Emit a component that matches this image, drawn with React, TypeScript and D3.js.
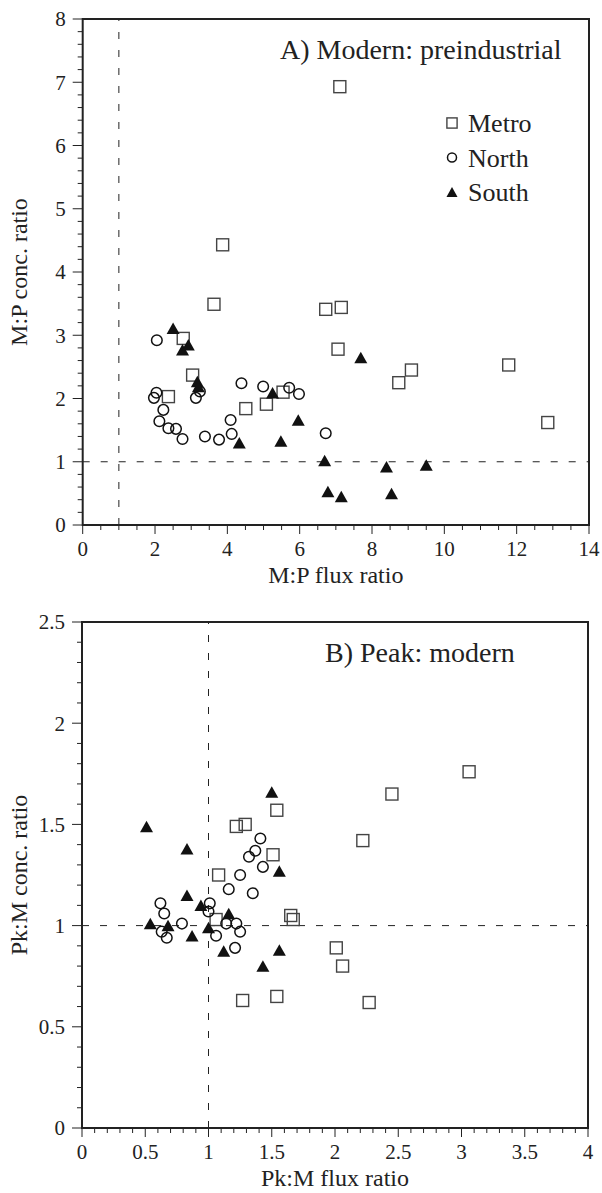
import React from "react";
import * as d3 from "d3";

type Pt = [number, number];

// Panel A: modern vs preindustrial (flux ratio, conc. ratio)
const metroA: Pt[] = [
  [3.87, 4.43], [7.11, 6.93], [3.63, 3.49], [2.78, 2.95], [3.04, 2.37], [2.37, 2.03],
  [4.51, 1.84], [5.08, 1.91], [5.54, 2.1], [6.72, 3.41], [7.15, 3.44], [7.06, 2.78],
  [9.09, 2.45], [8.74, 2.25], [11.78, 2.53], [12.86, 1.62],
];
const northA: Pt[] = [
  [2.05, 2.92], [2.04, 2.09], [1.97, 2.01], [2.23, 1.82], [2.12, 1.64], [2.37, 1.53],
  [2.58, 1.52], [2.76, 1.36], [3.24, 2.11], [3.13, 2.01], [3.38, 1.4], [3.77, 1.35],
  [4.09, 1.66], [4.12, 1.44], [4.39, 2.24], [4.99, 2.19], [5.71, 2.17], [5.98, 2.07],
  [6.72, 1.45],
];
const southA: Pt[] = [
  [2.5, 3.11], [2.76, 2.77], [2.92, 2.85], [3.17, 2.27], [3.2, 2.19], [4.33, 1.3],
  [5.25, 2.09], [5.48, 1.33], [5.96, 1.66], [6.69, 1.02], [6.78, 0.53], [7.15, 0.45],
  [7.69, 2.65], [8.4, 0.92], [8.54, 0.5], [9.5, 0.95],
];

// Panel B: peak vs modern
const metroB: Pt[] = [
  [1.54, 1.57], [1.22, 1.49], [1.29, 1.5], [1.51, 1.35], [1.08, 1.25], [1.65, 1.05],
  [1.67, 1.03], [1.06, 1.03], [3.06, 1.76], [2.45, 1.65], [2.22, 1.42], [1.27, 0.63],
  [1.54, 0.65], [2.01, 0.89], [2.06, 0.8], [2.27, 0.62],
];
const northB: Pt[] = [
  [0.62, 1.11], [0.65, 1.06], [0.63, 0.97], [0.67, 0.94], [0.79, 1.01], [1.01, 1.11],
  [1.0, 1.07], [1.06, 0.95], [1.14, 1.01], [1.22, 1.01], [1.25, 0.97], [1.21, 0.89],
  [1.16, 1.18], [1.25, 1.25], [1.35, 1.16], [1.32, 1.34], [1.37, 1.37], [1.41, 1.43],
  [1.43, 1.29],
];
const southB: Pt[] = [
  [1.5, 1.66], [0.51, 1.49], [0.83, 1.38], [1.56, 1.27], [0.83, 1.15], [0.94, 1.1],
  [1.16, 1.06], [0.54, 1.01], [0.68, 1.0], [1.0, 0.99], [0.87, 0.95], [1.12, 0.875],
  [1.56, 0.88], [1.43, 0.8],
];

const xTicksA = [0, 2, 4, 6, 8, 10, 12, 14];
const yTicksA = [0, 1, 2, 3, 4, 5, 6, 7, 8];
const xTicksB = [0, 0.5, 1, 1.5, 2, 2.5, 3, 3.5, 4];
const yTicksB = [0, 0.5, 1, 1.5, 2, 2.5];

const legendItems = ["Metro", "North", "South"];

const FONT = "Liberation Serif, Times New Roman, serif";
const INK = "#222";

const triPath = (w: number, h: number) =>
  `M0,${-h / 2}L${w / 2},${h / 2}L${-w / 2},${h / 2}Z`;

function Marker({ kind, x, y, s = 1 }: { kind: number; x: number; y: number; s?: number }) {
  if (kind === 0)
    return (
      <rect x={x - 6 * s} y={y - 6 * s} width={12 * s} height={12 * s}
        fill="none" stroke="#444" strokeWidth={1.4} />
    );
  if (kind === 1)
    return <circle cx={x} cy={y} r={5.3 * s} fill="none" stroke="#111" strokeWidth={1.5} />;
  return <path transform={`translate(${x},${y})`} d={triPath(13 * s, 11.5 * s)} fill="#111" />;
}

interface PanelProps {
  box: { left: number; right: number; top: number; bottom: number };
  xMax: number;
  yMax: number;
  xTicks: number[];
  yTicks: number[];
  xMinor: number;
  yMinor: number;
  series: Pt[][];
  title: string;
  titleX: number;
  xLabel: string;
  yLabel: string;
  legend?: boolean;
}

function Panel(p: PanelProps) {
  const { left, right, top, bottom } = p.box;
  const x = d3.scaleLinear().domain([0, p.xMax]).range([left, right]);
  const y = d3.scaleLinear().domain([0, p.yMax]).range([bottom, top]);
  const xMinor = d3.range(0, p.xMax + 1e-9, p.xMinor);
  const yMinor = d3.range(0, p.yMax + 1e-9, p.yMinor);
  const isMajor = (v: number, ticks: number[]) => ticks.some((t) => Math.abs(t - v) < 1e-6);

  return (
    <g>
      {/* reference lines at ratio = 1 */}
      <line x1={x(1)} x2={x(1)} y1={bottom} y2={top} stroke={INK} strokeWidth={1}
        strokeDasharray="7,11" />
      <line x1={left} x2={right} y1={y(1)} y2={y(1)} stroke={INK} strokeWidth={1}
        strokeDasharray="7,11" />

      {/* ticks */}
      {xMinor.map((v, i) => (
        <line key={"xm" + i} x1={x(v)} x2={x(v)} y1={bottom}
          y2={bottom + (isMajor(v, p.xTicks) ? 9 : 5)} stroke={INK} strokeWidth={1} />
      ))}
      {yMinor.map((v, i) => (
        <line key={"ym" + i} x1={left} x2={left - (isMajor(v, p.yTicks) ? 10 : 5)}
          y1={y(v)} y2={y(v)} stroke={INK} strokeWidth={1} />
      ))}
      {p.xTicks.map((v) => (
        <text key={"xt" + v} x={x(v)} y={bottom + 31} textAnchor="middle" fontSize={21}
          fontFamily={FONT} fill={INK}>{v}</text>
      ))}
      {p.yTicks.map((v) => (
        <text key={"yt" + v} x={left - 17} y={y(v)} dy="0.35em" textAnchor="end" fontSize={21}
          fontFamily={FONT} fill={INK}>{v}</text>
      ))}

      {/* points */}
      {p.series.map((pts, k) =>
        pts.map((d, i) => <Marker key={k + "-" + i} kind={k} x={x(d[0])} y={y(d[1])} />)
      )}

      {/* frame */}
      <rect x={left} y={top} width={right - left} height={bottom - top} fill="none"
        stroke={INK} strokeWidth={2} />

      <text x={p.titleX} y={top + 40} fontSize={28} fontFamily={FONT} fill={INK}>{p.title}</text>

      {p.legend &&
        legendItems.map((name, k) => (
          <g key={name}>
            <Marker kind={k} x={452} y={123 + k * 34.5} s={0.85} />
            <text x={468} y={123 + k * 34.5} dy="0.35em" fontSize={26} fontFamily={FONT}
              fill={INK}>{name}</text>
          </g>
        ))}

      <text x={(left + right) / 2} y={bottom + 58} textAnchor="middle" fontSize={24}
        fontFamily={FONT} fill={INK}>{p.xLabel}</text>
      <text transform={`translate(27,${(top + bottom) / 2}) rotate(-90)`} textAnchor="middle"
        fontSize={24} fontFamily={FONT} fill={INK}>{p.yLabel}</text>
    </g>
  );
}

export default function App() {
  return (
    <svg width={602} height={1193} style={{ position: "absolute", left: 0, top: 0, background: "#fff" }}>
      <Panel
        box={{ left: 82.7, right: 589, top: 19, bottom: 525 }}
        xMax={14} yMax={8} xTicks={xTicksA} yTicks={yTicksA} xMinor={0.5} yMinor={0.2}
        series={[metroA, northA, southA]}
        title="A) Modern: preindustrial" titleX={280}
        xLabel="M:P flux ratio" yLabel="M:P conc. ratio" legend
      />
      <Panel
        box={{ left: 82, right: 588, top: 622, bottom: 1128 }}
        xMax={4} yMax={2.5} xTicks={xTicksB} yTicks={yTicksB} xMinor={0.1} yMinor={0.1}
        series={[metroB, northB, southB]}
        title="B) Peak: modern" titleX={325}
        xLabel="Pk:M flux ratio" yLabel="Pk:M conc. ratio"
      />
    </svg>
  );
}
